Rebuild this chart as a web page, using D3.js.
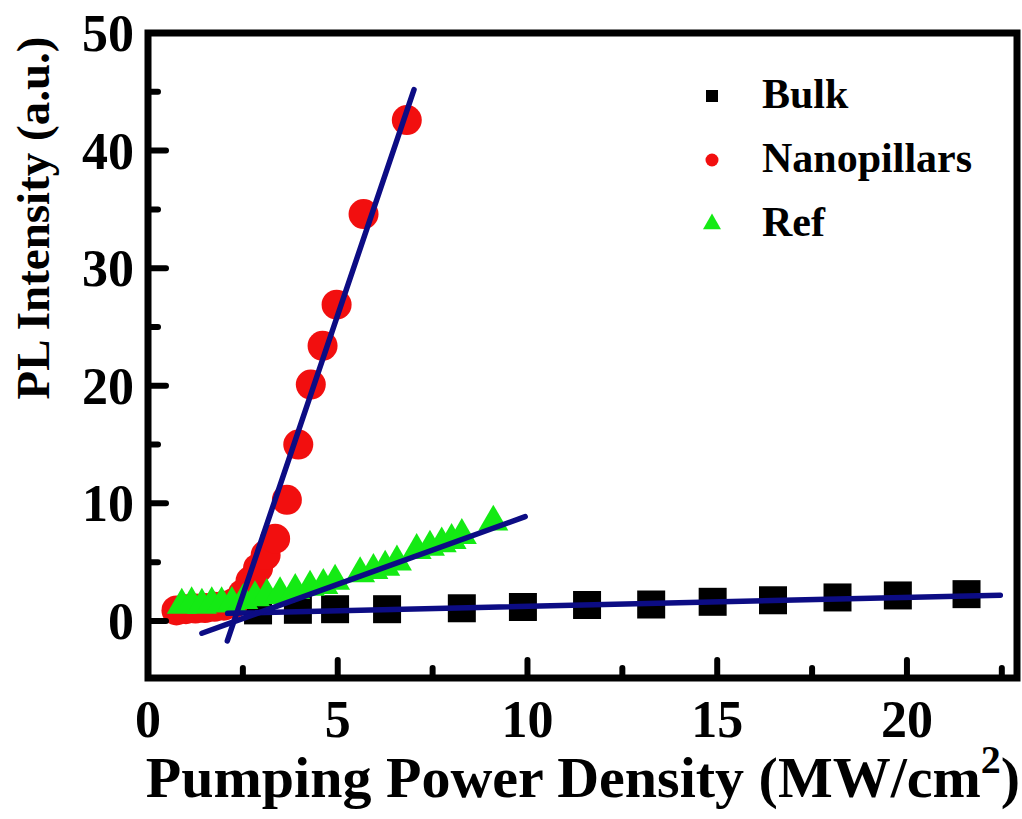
<!DOCTYPE html>
<html>
<head>
<meta charset="utf-8">
<script src="https://cdn.jsdelivr.net/npm/d3@7/dist/d3.min.js"></script>
<style>
  html, body { margin: 0; padding: 0; background: #fff; }
  svg { display: block; }
  text { font-family: "Liberation Serif", "Times New Roman", serif; font-weight: bold; fill: #000; }
</style>
</head>
<body>
<svg id="svg"></svg>
<script>
"use strict";

// measured data (MW/cm2 , a.u.)
var bulkX = [2.9, 3.95, 4.93, 6.3, 8.27, 9.88, 11.57, 13.26, 14.88, 16.47, 18.17, 19.76, 21.57];
var bulkY = [0.9, 0.95, 1.0, 1.0, 1.08, 1.19, 1.36, 1.4, 1.63, 1.76, 2.0, 2.17, 2.28];

var nanoX = [0.75, 1.0, 1.25, 1.5, 1.75, 2.0, 2.25, 2.5, 2.7, 2.9, 3.1, 3.35, 3.66, 3.96, 4.29, 4.6, 4.97, 5.68, 6.82];
var nanoY = [0.9, 1.0, 1.05, 1.1, 1.2, 1.3, 1.5, 2.3, 3.4, 4.5, 5.6, 7.0, 10.3, 15.0, 20.1, 23.4, 26.9, 34.6, 42.6];

var refX = [0.89, 1.15, 1.42, 1.68, 1.94, 2.21, 2.51, 2.82, 3.13, 3.48, 3.88, 4.27, 4.62, 4.93, 5.59, 5.94, 6.25, 6.56, 7.08, 7.43, 7.74, 8.0, 8.27, 9.1];
var refY = [1.36, 1.47, 1.36, 1.47, 1.47, 1.5, 1.76, 1.98, 2.18, 2.32, 2.61, 2.89, 3.03, 3.4, 4.02, 4.31, 4.59, 5.02, 6.01, 6.29, 6.57, 6.86, 7.29, 8.42];

// linear fits: slope, intercept, x range
var fitNames = ["Bulk", "Nanopillars", "Ref"];
var fitSlope = [0.076, 9.53, 1.164];
var fitIntercept = [0.49, -21.62, -2.70];
var fitFrom = [2.1, 2.09, 1.42];
var fitTo = [22.46, 7.01, 9.94];

var xTicks = [0, 5, 10, 15, 20];
var xMinor = [2.5, 7.5, 12.5, 17.5, 22.5];
var yTicks = [0, 10, 20, 30, 40, 50];
var yMinor = [5, 15, 25, 35, 45];

var seriesNames = ["Bulk", "Nanopillars", "Ref"];
var seriesColors = ["#000000", "#f20f0f", "#14ea14"];

(function(){

  var width = 1022, height = 819;
  var mLeft = 148, mRight = 1017, mTop = 33, mBottom = 678;

  var svg = d3.select("#svg").attr("width", width).attr("height", height);

  var x = d3.scaleLinear().domain([0, 22.9]).range([mLeft, mRight]);
  var y = d3.scaleLinear().domain([-4.85, 50]).range([mBottom, mTop]);

  var series = [
    { pts: d3.zip(bulkX, bulkY), sym: d3.symbolSquare, size: 784 },
    { pts: d3.zip(nanoX, nanoY), sym: d3.symbolCircle, size: 707 },
    { pts: d3.zip(refX, refY), sym: d3.symbolTriangle, size: 390 }
  ];

  var plot = svg.append("g").attr("class", "plot");

  series.forEach(function(s, i){
    plot.append("g")
      .selectAll("path")
      .data(s.pts)
      .enter()
      .append("path")
      .attr("transform", function(d){ return "translate(" + x(d[0]) + "," + y(d[1]) + ")"; })
      .attr("d", d3.symbol().type(s.sym).size(s.size))
      .style("fill", seriesColors[i]);
  });

  // fit lines
  var line = d3.line().x(function(d){ return x(d[0]); }).y(function(d){ return y(d[1]); });
  fitNames.forEach(function(n, i){
    var pts = [fitFrom[i], fitTo[i]].map(function(v){ return [v, fitSlope[i] * v + fitIntercept[i]]; });
    plot.append("path")
      .attr("d", line(pts))
      .style("fill", "none")
      .style("stroke", "#0c0c84")
      .style("stroke-width", 5.5)
      .style("stroke-linecap", "round");
  });

  // ticks (inward, bottom and left only)
  var ticks = svg.append("g").attr("class", "ticks")
    .style("stroke", "#000").style("stroke-width", 6).style("stroke-linecap", "round");

  ticks.selectAll(".xmaj").data(xTicks).enter().append("line")
    .attr("x1", function(d){ return x(d); }).attr("x2", function(d){ return x(d); })
    .attr("y1", mBottom).attr("y2", mBottom - 18);
  ticks.selectAll(".xmin").data(xMinor).enter().append("line")
    .attr("x1", function(d){ return x(d); }).attr("x2", function(d){ return x(d); })
    .attr("y1", mBottom).attr("y2", mBottom - 10);
  ticks.selectAll(".ymaj").data(yTicks).enter().append("line")
    .attr("y1", function(d){ return y(d); }).attr("y2", function(d){ return y(d); })
    .attr("x1", mLeft).attr("x2", mLeft + 18);
  ticks.selectAll(".ymin").data(yMinor).enter().append("line")
    .attr("y1", function(d){ return y(d); }).attr("y2", function(d){ return y(d); })
    .attr("x1", mLeft).attr("x2", mLeft + 10);

  // frame
  svg.append("rect")
    .attr("x", mLeft).attr("y", mTop)
    .attr("width", mRight - mLeft).attr("height", mBottom - mTop)
    .style("fill", "none").style("stroke", "#000").style("stroke-width", 7);

  // tick labels
  svg.append("g").selectAll("text").data(xTicks).enter().append("text")
    .attr("x", function(d){ return x(d); })
    .attr("y", 737)
    .attr("text-anchor", "middle")
    .style("font-size", "52px")
    .text(function(d){ return d; });

  svg.append("g").selectAll("text").data(yTicks).enter().append("text")
    .attr("x", 134)
    .attr("y", function(d){ return y(d) + 18; })
    .attr("text-anchor", "end")
    .style("font-size", "52px")
    .text(function(d){ return d; });

  // axis titles
  var xt = svg.append("text")
    .attr("x", 583).attr("y", 797)
    .attr("text-anchor", "middle")
    .style("font-size", "58px");
  xt.append("tspan").text("Pumping Power Density (MW/cm");
  xt.append("tspan").attr("dy", -24).style("font-size", "40px").text("2");
  xt.append("tspan").attr("dy", 24).text(")");

  svg.append("text")
    .attr("transform", "translate(49,218) rotate(-90)")
    .attr("text-anchor", "middle")
    .style("font-size", "47px")
    .text("PL Intensity (a.u.)");

  // legend
  var legSym = [d3.symbolSquare, d3.symbolCircle, d3.symbolTriangle];
  var legSize = [144, 133, 140];
  var legend = svg.append("g").attr("transform", "translate(712,96)");
  seriesNames.forEach(function(n, i){
    var g = legend.append("g").attr("transform", "translate(0," + (i * 64) + ")");
    g.append("path")
      .attr("d", d3.symbol().type(legSym[i]).size(legSize[i]))
      .style("fill", seriesColors[i]);
    g.append("text").attr("x", 50).attr("y", 12).style("font-size", "42px").text(n);
  });

})();
</script>
</body>
</html>
